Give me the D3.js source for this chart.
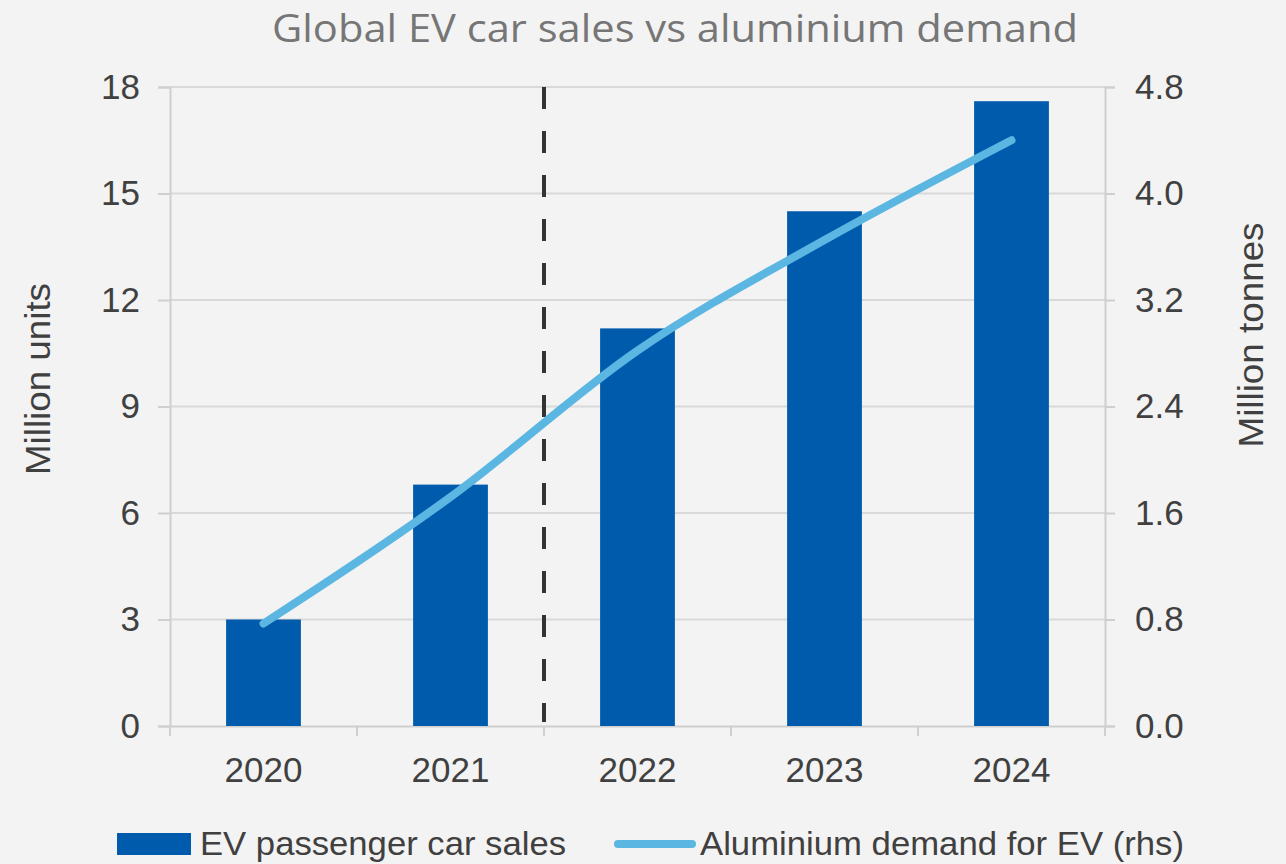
<!DOCTYPE html>
<html>
<head>
<meta charset="utf-8">
<script src="https://cdn.jsdelivr.net/npm/d3@7"></script>
<style>
  body { margin: 0; background: #f3f3f3; }
  .tick text { font-family: "Liberation Sans", Arial, sans-serif; font-size: 35px; fill: #404040; }
</style>
</head>
<body>
<div id="chart"></div>
<script>
// Chart Params
var svgWidth = 1286;
var svgHeight = 864;

var margin = { top: 87, right: 181, bottom: 138, left: 170 };
var width = svgWidth - margin.left - margin.right;
var height = svgHeight - margin.top - margin.bottom;

// data
var years = ["2020", "2021", "2022", "2023", "2024"];
var evSales = [3.0, 6.8, 11.2, 14.5, 17.6];
var aluDemand = [0.77, 1.72, 2.82, 3.65, 4.4];
var leftTicks = [0, 3, 6, 9, 12, 15, 18];
var rightTicks = [0, 0.8, 1.6, 2.4, 3.2, 4.0, 4.8];

var barColor = "#005bac";
var lineColor = "#5bb6e2";

var svg = d3.select("#chart")
  .append("svg")
  .attr("width", svgWidth)
  .attr("height", svgHeight);

svg.append("rect")
  .attr("width", svgWidth)
  .attr("height", svgHeight)
  .attr("fill", "#f3f3f3");

var chartGroup = svg.append("g")
  .attr("transform", `translate(${margin.left}, ${margin.top})`);

// scales
var xScale = d3.scaleBand().domain(years).range([0, width]).paddingInner(0.6).paddingOuter(0.3);
var xBand = d3.scaleBand().domain(years).range([0, width]);
var yLeft = d3.scaleLinear().domain([0, 18]).range([height, 0]);
var yRight = d3.scaleLinear().domain([0, 4.8]).range([height, 0]);

// gridlines
chartGroup.selectAll(".grid")
  .data(leftTicks.slice(1))
  .enter()
  .append("line")
  .attr("x1", 0)
  .attr("x2", width)
  .attr("y1", d => yLeft(d))
  .attr("y2", d => yLeft(d))
  .attr("stroke", "#d9d9d9")
  .attr("stroke-width", 2);

// left axis
var leftAxis = chartGroup.append("g")
  .call(d3.axisLeft(yLeft).tickValues(leftTicks).tickSize(12).tickPadding(18));
// right axis
var rightAxis = chartGroup.append("g")
  .attr("transform", `translate(${width}, 0)`)
  .call(d3.axisRight(yRight).tickValues(rightTicks).tickSize(10).tickPadding(20)
    .tickFormat(d3.format(".1f")));
// bottom axis, ticks at category boundaries
var bottomAxis = chartGroup.append("g")
  .attr("transform", `translate(0, ${height})`)
  .call(d3.axisBottom(xBand).tickSize(0).tickPadding(31));

bottomAxis.selectAll(".boundary")
  .data(years.concat(["end"]))
  .enter()
  .append("line")
  .attr("x1", (d, i) => i * xBand.step())
  .attr("x2", (d, i) => i * xBand.step())
  .attr("y1", 0)
  .attr("y2", 10)
  .attr("stroke", "#cfcfcf")
  .attr("stroke-width", 2);

[leftAxis, rightAxis, bottomAxis].forEach(a => {
  a.select(".domain").attr("stroke", "#cfcfcf").attr("stroke-width", 2);
  a.selectAll(".tick line").attr("stroke", "#cfcfcf").attr("stroke-width", 2);
});

// bars
chartGroup.selectAll(".bar")
  .data(evSales)
  .enter()
  .append("rect")
  .attr("x", (d, i) => xScale(years[i]))
  .attr("y", d => yLeft(d))
  .attr("width", xScale.bandwidth())
  .attr("height", d => height - yLeft(d))
  .attr("fill", barColor);

// dashed divider between 2021 and 2022
chartGroup.append("line")
  .attr("x1", xBand("2022"))
  .attr("x2", xBand("2022"))
  .attr("y1", 0)
  .attr("y2", height - 4)
  .attr("stroke", "#333")
  .attr("stroke-width", 4)
  .attr("stroke-dasharray", "22,22");

// aluminium line
var line = d3.line()
  .x((d, i) => xBand(years[i]) + xBand.bandwidth() / 2)
  .y(d => yRight(d))
  .curve(d3.curveMonotoneX);

chartGroup.append("path")
  .datum(aluDemand)
  .attr("d", line)
  .attr("fill", "none")
  .attr("stroke", lineColor)
  .attr("stroke-width", 8)
  .attr("stroke-linecap", "round")
  .attr("stroke-linejoin", "round");

// title
svg.append("text")
  .attr("x", 272)
  .attr("y", 42)
  .attr("font-family", "Open Sans, sans-serif")
  .attr("font-size", 39)
  .attr("fill", "#767676")
  .attr("textLength", 806)
  .attr("lengthAdjust", "spacingAndGlyphs")
  .text("Global EV car sales vs aluminium demand");

// axis titles
svg.append("text")
  .attr("transform", "translate(50, 379) rotate(-90)")
  .attr("text-anchor", "middle")
  .attr("font-family", "Liberation Sans, Arial, sans-serif")
  .attr("font-size", 35)
  .attr("fill", "#404040")
  .attr("textLength", 192)
  .attr("lengthAdjust", "spacingAndGlyphs")
  .text("Million units");

svg.append("text")
  .attr("transform", "translate(1263, 335) rotate(-90)")
  .attr("text-anchor", "middle")
  .attr("font-family", "Liberation Sans, Arial, sans-serif")
  .attr("font-size", 35)
  .attr("fill", "#404040")
  .attr("textLength", 225)
  .attr("lengthAdjust", "spacingAndGlyphs")
  .text("Million tonnes");

// legend
var legend = svg.append("g");
legend.append("rect")
  .attr("x", 117).attr("y", 833)
  .attr("width", 74).attr("height", 22)
  .attr("fill", barColor);
legend.append("text")
  .attr("x", 200).attr("y", 855)
  .attr("font-family", "Liberation Sans, Arial, sans-serif")
  .attr("font-size", 34)
  .attr("fill", "#404040")
  .attr("textLength", 366)
  .attr("lengthAdjust", "spacingAndGlyphs")
  .text("EV passenger car sales");
legend.append("line")
  .attr("x1", 618).attr("x2", 692)
  .attr("y1", 844).attr("y2", 844)
  .attr("stroke", lineColor)
  .attr("stroke-width", 8)
  .attr("stroke-linecap", "round");
legend.append("text")
  .attr("x", 700).attr("y", 855)
  .attr("font-family", "Liberation Sans, Arial, sans-serif")
  .attr("font-size", 34)
  .attr("fill", "#404040")
  .attr("textLength", 484)
  .attr("lengthAdjust", "spacingAndGlyphs")
  .text("Aluminium demand for EV (rhs)");
</script>
</body>
</html>
